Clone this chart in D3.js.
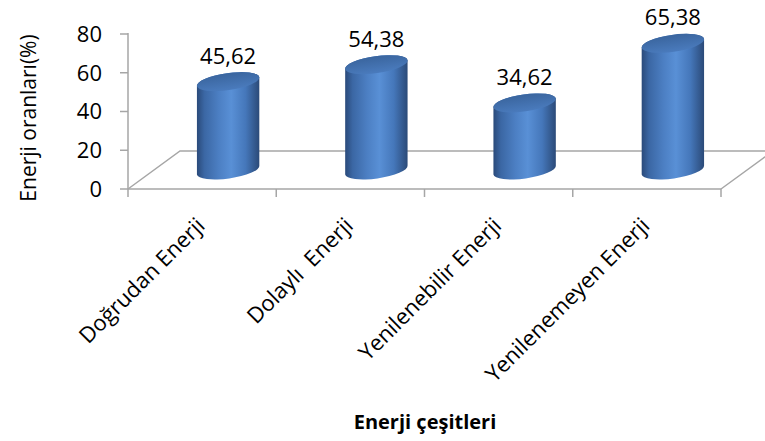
<!DOCTYPE html>
<html>
<head>
<meta charset="utf-8">
<script src="https://cdn.jsdelivr.net/npm/d3@7/dist/d3.min.js"></script>
<style>
  html, body { margin: 0; padding: 0; background: #fff; }
  svg { display: block; font-family: "Open Sans", "Noto Sans", sans-serif; }
</style>
</head>
<body>
<svg id="chart" width="765" height="441"></svg>
<script>
// Energy types and their share (%)
const categories = ["Doğrudan Enerji", "Dolaylı  Enerji", "Yenilenebilir Enerji", "Yenilenemeyen Enerji"];
const values = [45.62, 54.38, 34.62, 65.38];
const valueLabels = ["45,62", "54,38", "34,62", "65,38"];
const yTicks = [0, 20, 40, 60, 80];
const yTitle = "Enerji oranları(%)";
const xTitle = "Enerji çeşitleri";

const svg = d3.select("#chart");

// Plot frame: front floor edge and depth offset of the 3D box
const left = 128, right = 721, floorY = 189, topY = 34;
const depth = { dx: 52, dy: -38 };

const y = d3.scaleLinear().domain([0, 80]).range([floorY, topY]);
const x = d3.scaleBand().domain(categories).range([left, right]).padding(0);

const grey = "#a6a6a6";

// Floor outline (left side, back edge, right side)
const floor = svg.append("g").attr("fill", "none").attr("stroke", grey).attr("stroke-width", 1.5);
floor.append("path").attr("d", d3.line()([
  [left, floorY], [left + depth.dx, floorY + depth.dy], [right + depth.dx, floorY + depth.dy], [right, floorY]
]));
floor.append("line").attr("x1", left).attr("x2", right).attr("y1", floorY).attr("y2", floorY);

// Y axis
const yAxis = svg.append("g");
yAxis.append("line").attr("x1", left).attr("x2", left).attr("y1", topY - 1).attr("y2", floorY)
  .attr("stroke", grey).attr("stroke-width", 1.5);
yAxis.selectAll("line.tick").data(yTicks).join("line").attr("class", "tick")
  .attr("x1", left - 8).attr("x2", left).attr("y1", d => y(d)).attr("y2", d => y(d))
  .attr("stroke", grey).attr("stroke-width", 1.5);
yAxis.selectAll("text").data(yTicks).join("text")
  .attr("x", 102).attr("y", d => y(d)).attr("dy", "0.36em")
  .attr("text-anchor", "end").attr("font-size", 22).attr("fill", "#000")
  .text(d => d);

// X axis ticks on the front floor edge
const xTickPos = categories.map(c => x(c)).concat([right]);
svg.append("g").selectAll("line").data(xTickPos).join("line")
  .attr("x1", d => d).attr("x2", d => d).attr("y1", floorY).attr("y2", floorY + 8)
  .attr("stroke", grey).attr("stroke-width", 1.5);

// Gradients for the cylinders
const defs = svg.append("defs");
const side = defs.append("linearGradient").attr("id", "cylSide")
  .attr("x1", "0%").attr("x2", "100%").attr("y1", "0%").attr("y2", "0%");
[["0%", "#2a4a7a"], ["12%", "#3b67a4"], ["35%", "#4c7fc3"], ["55%", "#5990d6"], ["78%", "#4577ba"], ["100%", "#2b4a78"]]
  .forEach(([o, c]) => side.append("stop").attr("offset", o).attr("stop-color", c));
const cap = defs.append("linearGradient").attr("id", "cylTop")
  .attr("x1", "0%").attr("x2", "0%").attr("y1", "0%").attr("y2", "100%");
[["0%", "#3a659e"], ["100%", "#4a7bbd"]]
  .forEach(([o, c]) => cap.append("stop").attr("offset", o).attr("stop-color", c));

// Cylinders stand in the middle of the floor depth
const rx = 31.5, ry = 8.5, tilt = -8;
const t = tilt * Math.PI / 180;
const ex = rx * Math.cos(t), ey = rx * Math.sin(t);

const bars = svg.append("g").selectAll("g").data(values).join("g");
bars.each(function (v, i) {
  const g = d3.select(this);
  const cx = x(categories[i]) + x.bandwidth() / 2 + depth.dx / 2;
  const yb = y(0) + depth.dy / 2;
  const yt = y(v) + depth.dy / 2;
  const body = `M${cx - ex},${yt - ey} L${cx - ex},${yb - ey} ` +
    `A${rx},${ry} ${tilt} 0 0 ${cx + ex},${yb + ey} ` +
    `L${cx + ex},${yt + ey} A${rx},${ry} ${tilt} 0 0 ${cx - ex},${yt - ey} Z`;
  g.append("path").attr("d", body).attr("fill", "url(#cylSide)");
  g.append("ellipse").attr("cx", cx).attr("cy", yt).attr("rx", rx).attr("ry", ry)
    .attr("transform", `rotate(${tilt},${cx},${yt})`).attr("fill", "url(#cylTop)");
  g.append("text").attr("x", cx).attr("y", yt - 18).attr("text-anchor", "middle")
    .attr("font-size", 22).attr("fill", "#000").text(valueLabels[i]);
});

// Category labels, rotated
svg.append("g").selectAll("text").data(categories).join("text")
  .attr("transform", c => `translate(${x(c) + x.bandwidth() / 2 + 4},${floorY + 38}) rotate(-45)`)
  .attr("text-anchor", "end").attr("font-size", 22).attr("fill", "#000")
  .attr("xml:space", "preserve").style("white-space", "pre")
  .text(c => c);

// Axis titles
svg.append("text").attr("transform", "translate(36,118) rotate(-90)")
  .attr("text-anchor", "middle").attr("font-size", 21).attr("fill", "#000").text(yTitle);
svg.append("text").attr("x", 425).attr("y", 429).attr("text-anchor", "middle")
  .attr("font-size", 20).attr("font-weight", "bold").attr("fill", "#000").text(xTitle);
</script>
</body>
</html>
